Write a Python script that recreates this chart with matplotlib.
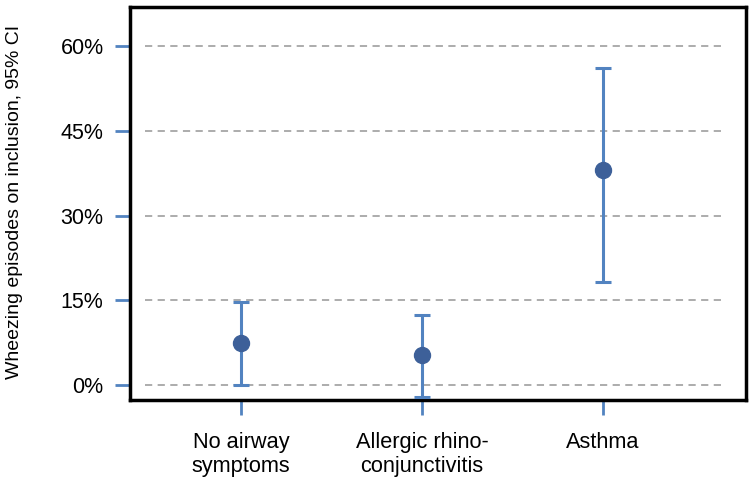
import matplotlib
matplotlib.use("Agg")
import matplotlib.pyplot as plt
import numpy as np

categories = ["No airway\nsymptoms", "Allergic rhino-\nconjunctivitis", "Asthma"]
estimate = [7.4, 5.3, 38.0]
ci_low = [0.0, -2.1, 18.2]
ci_high = [14.7, 12.4, 56.1]
yticks = [0, 15, 30, 45, 60]
ytick_labels = ["0%", "15%", "30%", "45%", "60%"]

plt.rcParams['font.family'] = ['Liberation Sans', 'DejaVu Sans']

fig = plt.figure(figsize=(7.53, 4.87), dpi=100)
ax = fig.add_axes([130/753, 1 - 400/487, 616/753, 393/487])

x = np.arange(len(categories))
est = np.array(estimate)
lo = est - np.array(ci_low)
hi = np.array(ci_high) - est

for yv in yticks:
    ax.axhline(yv, xmin=0.024, xmax=0.966, color="#a6a6a6", lw=1.3,
               ls=(0, (4, 3)), zorder=1)

ax.errorbar(x, est, yerr=[lo, hi], fmt='none', ecolor="#5283c0",
            elinewidth=2.2, capsize=5.5, capthick=2.2, zorder=3)
ax.plot(x, est, 'o', color="#3d6099", markersize=11.5, zorder=4)

ax.set_xlim(-0.613, 2.79)
ax.set_ylim(-2.65, 66.9)
ax.set_yticks(yticks)
ax.set_yticklabels(ytick_labels, fontsize=15.5)
ax.set_xticks(x)
ax.set_xticklabels(categories, fontsize=15.7, linespacing=1.2)

ax.tick_params(axis='y', direction='out', length=11, width=2, color="#5283c0", pad=8)
ax.tick_params(axis='x', direction='out', length=11, width=2, color="#5283c0", pad=12)

for s in ax.spines.values():
    s.set_linewidth(2.5)
    s.set_color("black")

fig.text(15/753, 1 - 202/487, "Wheezing episodes on inclusion, 95% CI",
         rotation=90, ha='center', va='center', fontsize=14)

fig.savefig("out.png", dpi=100)
